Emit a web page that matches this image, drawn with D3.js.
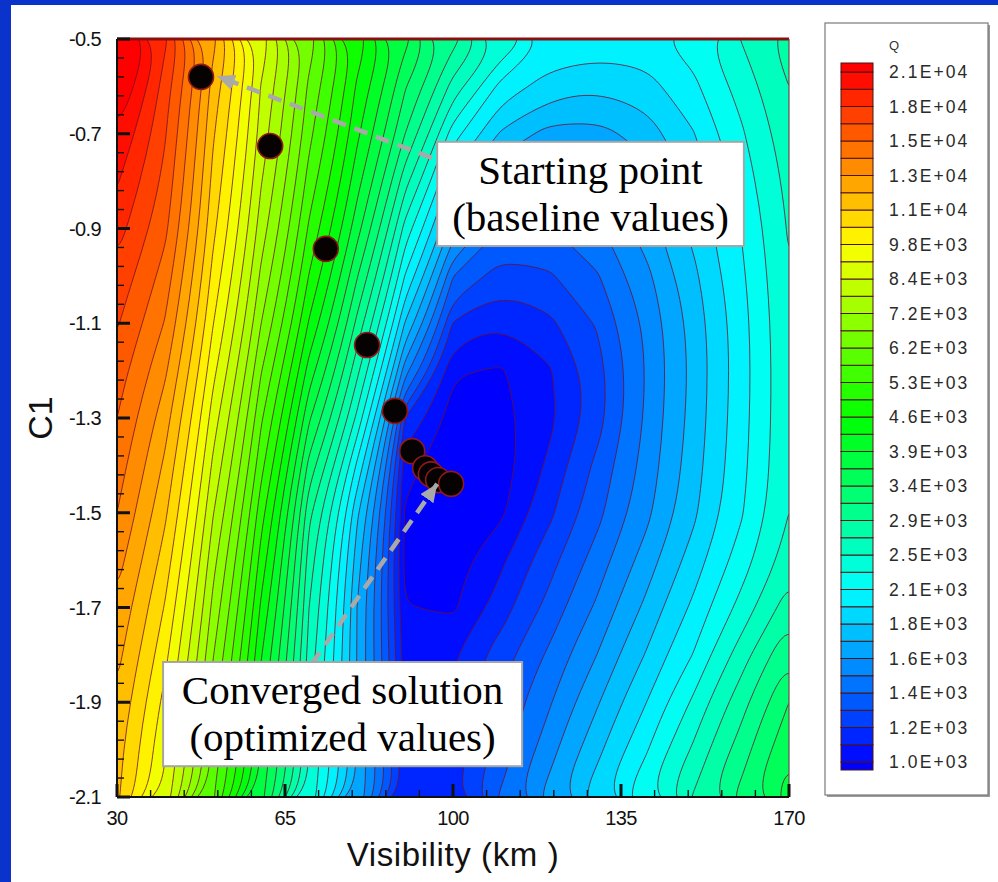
<!DOCTYPE html>
<html><head><meta charset="utf-8">
<script src="https://cdn.jsdelivr.net/npm/d3@7"></script>
<style>
html,body{margin:0;padding:0;background:#fff;}
svg{display:block;}
</style></head>
<body>
<svg id="chart" width="998" height="882"></svg>
<script>
// ---------------- data ----------------
const visibility = [30, 40, 50, 60, 70, 80, 90, 100, 110, 120, 130, 140, 150, 160, 170];
const c1Values = [-0.5, -0.6, -0.7, -0.8, -0.9, -1.0, -1.1, -1.2, -1.3, -1.4, -1.5, -1.6, -1.7, -1.8, -1.9, -2.0, -2.1];
// Q on the (C1 row, Visibility column) grid
const qRow00 = [25400, 18312, 12612, 8819, 6455, 4797, 3731, 2981, 2483, 2131, 2083, 2091, 2216, 2499, 2794];
const qRow01 = [23009, 17363, 11957, 8392, 6119, 4531, 3406, 2610, 2083, 1912, 1859, 1917, 2102, 2378, 2690];
const qRow02 = [20950, 16842, 11545, 8172, 5887, 4319, 3134, 2214, 1815, 1655, 1655, 1757, 1971, 2282, 2610];
const qRow03 = [19611, 16337, 11165, 7855, 5585, 4054, 2769, 1906, 1568, 1480, 1523, 1647, 1869, 2207, 2551];
const qRow04 = [18593, 15774, 10798, 7521, 5271, 3760, 2423, 1643, 1356, 1349, 1439, 1638, 1875, 2146, 2512];
const qRow05 = [17629, 15002, 10331, 7126, 4927, 3403, 2133, 1359, 1209, 1243, 1345, 1537, 1800, 2105, 2483];
const qRow06 = [16842, 14278, 9847, 6715, 4545, 3067, 1828, 1156, 1079, 1142, 1266, 1479, 1751, 2074, 2464];
const qRow07 = [16090, 13486, 9301, 6252, 4110, 2750, 1509, 1008, 992, 1068, 1213, 1463, 1738, 2066, 2455];
const qRow08 = [15489, 12747, 8765, 5833, 3692, 2444, 1164, 966, 973, 1056, 1210, 1473, 1749, 2074, 2455];
const qRow09 = [14911, 12140, 8297, 5476, 3296, 2109, 1023, 955, 959, 1096, 1281, 1499, 1770, 2089, 2464];
const qRow10 = [14354, 11589, 7849, 5106, 2966, 1866, 992, 959, 985, 1141, 1323, 1538, 1805, 2120, 2493];
const qRow11 = [13713, 11039, 7430, 4804, 2799, 1770, 977, 966, 1063, 1219, 1401, 1628, 1899, 2219, 2590];
const qRow12 = [13101, 10514, 7083, 4524, 2692, 1704, 1004, 985, 1120, 1288, 1482, 1728, 2014, 2367, 2794];
const qRow13 = [12612, 10029, 6741, 4279, 2611, 1699, 1033, 1071, 1209, 1374, 1580, 1842, 2146, 2586, 3109];
const qRow14 = [12140, 9559, 6406, 4063, 2535, 1694, 1055, 1083, 1272, 1448, 1688, 1973, 2338, 2811, 3380];
const qRow15 = [11776, 9160, 6078, 3897, 2483, 1687, 1071, 1096, 1296, 1529, 1797, 2112, 2520, 3009, 3592];
const qRow16 = [11598, 8819, 5802, 3737, 2435, 1679, 1129, 1156, 1371, 1624, 1924, 2282, 2704, 3204, 3797];
const qGrid = [qRow00, qRow01, qRow02, qRow03, qRow04, qRow05, qRow06, qRow07, qRow08, qRow09, qRow10,
               qRow11, qRow12, qRow13, qRow14, qRow15, qRow16];

const qLevels = [1000, 1079, 1164, 1257, 1356, 1463, 1579, 1704, 1838, 1984, 2141, 2310, 2493, 2690, 2903,
                 3132, 3380, 3647, 3935, 4247, 4583, 4945, 5336, 5758, 6214, 6705, 7235, 7807, 8425, 9091,
                 9810, 10586, 11423, 12327, 13302, 14354, 15489, 16714, 18035, 19462, 21000];
const legendLabels = ["2.1E+04", "1.8E+04", "1.5E+04", "1.3E+04", "1.1E+04", "9.8E+03", "8.4E+03", "7.2E+03",
                      "6.2E+03", "5.3E+03", "4.6E+03", "3.9E+03", "3.4E+03", "2.9E+03", "2.5E+03", "2.1E+03",
                      "1.8E+03", "1.6E+03", "1.4E+03", "1.2E+03", "1.0E+03"];
const xTicks = [30, 65, 100, 135, 170];
const yTicks = [-0.5, -0.7, -0.9, -1.1, -1.3, -1.5, -1.7, -1.9, -2.1];
const xMinorStep = 7;
const yMinorStep = 0.04;

// optimisation path (iterates)
const pathV  = [47.5, 61.9, 73.5, 82.1, 87.9, 91.5, 94.2, 95.4, 96.9, 99.6];
const pathC1 = [-0.580, -0.726, -0.943, -1.146, -1.285, -1.370, -1.406, -1.419, -1.431, -1.439];

// annotations (data coordinates)
const noteText  = [["Starting point", "(baseline values)"], ["Converged solution", "(optimized values)"]];
const noteBoxV  = [[96.7, 160.6], [39.6, 114.4]];
const noteBoxC1 = [[-0.717, -0.937], [-1.815, -2.035]];
const arrowFromV  = [95.6, 70.6];
const arrowFromC1 = [-0.751, -1.819];
const arrowToV    = [50.8, 96.7];
const arrowToC1   = [-0.578, -1.439];

// ---------------- drawing ----------------
const svg = d3.select("#chart");
const W = 998, H = 882;
const plot = {left: 117, right: 789, top: 39, bottom: 797};

svg.append("rect").attr("width", W).attr("height", H).attr("fill", "#ffffff");
svg.append("rect").attr("x", 0).attr("y", 0).attr("width", 11).attr("height", H).attr("fill", "#0a33cc");
svg.append("rect").attr("x", 0).attr("y", 0).attr("width", W).attr("height", 5).attr("fill", "#0a33cc");

const x = d3.scaleLinear().domain(d3.extent(visibility)).range([plot.left, plot.right]);
const y = d3.scaleLinear().domain([c1Values[0], c1Values[c1Values.length - 1]]).range([plot.top, plot.bottom]);

const rainbow = d3.piecewise(d3.interpolateRgb, ["#0000ff", "#00ffff", "#00ff00", "#ffff00", "#ff0000"]);
const nBands = qLevels.length - 1;
const bandColor = b => rainbow(Math.max(0, Math.min(1, (b + 0.5) / nBands)));

const defs = svg.append("defs");
defs.append("clipPath").attr("id", "plotClip").append("rect")
  .attr("x", plot.left).attr("y", plot.top)
  .attr("width", plot.right - plot.left).attr("height", plot.bottom - plot.top);
defs.append("marker").attr("id", "head").attr("markerUnits", "userSpaceOnUse")
  .attr("markerWidth", 20).attr("markerHeight", 18).attr("refX", 18).attr("refY", 8)
  .attr("orient", "auto")
  .append("path").attr("d", "M0,0 L18,8 L0,16 Z").attr("fill", "#a9a9a9");

const nx = visibility.length, ny = c1Values.length;
const dV = visibility[1] - visibility[0], dC = c1Values[1] - c1Values[0];
const toPx = ([px, py]) => [x(visibility[0] + (px - 0.5) * dV), y(c1Values[0] + (py - 0.5) * dC)];
const ringLine = d3.line().curve(d3.curveBasisClosed);
const contourPath = mp => mp.coordinates
  .map(poly => poly.map(ring => ringLine(ring.slice(0, -1).map(toPx))).join(""))
  .join("");
const contours = d3.contours().size([nx, ny]).thresholds(qLevels)(qGrid.flat());

const gPlot = svg.append("g").attr("clip-path", "url(#plotClip)");
gPlot.append("rect").attr("x", plot.left).attr("y", plot.top)
  .attr("width", plot.right - plot.left).attr("height", plot.bottom - plot.top)
  .attr("fill", bandColor(-1));
gPlot.selectAll("path.band").data(contours).join("path").attr("class", "band")
  .attr("d", contourPath).attr("fill", (d, i) => bandColor(i)).attr("fill-rule", "evenodd").attr("stroke", "none");
gPlot.selectAll("path.line").data(contours).join("path").attr("class", "line")
  .attr("d", contourPath).attr("fill", "none").attr("stroke", "#6e0e2a").attr("stroke-width", 1)
  .attr("stroke-opacity", 0.78);

// frame
svg.append("line").attr("x1", plot.left).attr("x2", plot.right).attr("y1", plot.top).attr("y2", plot.top)
  .attr("stroke", "#8a1010").attr("stroke-width", 3);
svg.append("line").attr("x1", plot.right).attr("x2", plot.right).attr("y1", plot.top).attr("y2", plot.bottom)
  .attr("stroke", "#6a4a4a").attr("stroke-width", 1.2);
svg.append("line").attr("x1", plot.left).attr("x2", plot.left).attr("y1", plot.top).attr("y2", plot.bottom)
  .attr("stroke", "#111").attr("stroke-width", 2);
svg.append("line").attr("x1", plot.left).attr("x2", plot.right).attr("y1", plot.bottom).attr("y2", plot.bottom)
  .attr("stroke", "#111").attr("stroke-width", 2);

// ticks
const gAx = svg.append("g");
const yMinor = d3.range(0, Math.round((yTicks[0] - yTicks[yTicks.length - 1]) / yMinorStep) + 1)
  .map(i => yTicks[0] - i * yMinorStep);
gAx.selectAll("line.ym").data(yMinor).join("line").attr("class", "ym")
  .attr("x1", plot.left).attr("x2", plot.left + 7).attr("y1", d => y(d)).attr("y2", d => y(d))
  .attr("stroke", "#111").attr("stroke-width", 1.4);
gAx.selectAll("line.yM").data(yTicks).join("line").attr("class", "yM")
  .attr("x1", plot.left).attr("x2", plot.left + 13).attr("y1", d => y(d)).attr("y2", d => y(d))
  .attr("stroke", "#111").attr("stroke-width", 3);
const xMinor = d3.range(0, Math.round((xTicks[xTicks.length - 1] - xTicks[0]) / xMinorStep) + 1)
  .map(i => xTicks[0] + i * xMinorStep);
gAx.selectAll("line.xm").data(xMinor).join("line").attr("class", "xm")
  .attr("y1", plot.bottom).attr("y2", plot.bottom - 7).attr("x1", d => x(d)).attr("x2", d => x(d))
  .attr("stroke", "#111").attr("stroke-width", 1.4);
gAx.selectAll("line.xM").data(xTicks).join("line").attr("class", "xM")
  .attr("y1", plot.bottom).attr("y2", plot.bottom - 13).attr("x1", d => x(d)).attr("x2", d => x(d))
  .attr("stroke", "#111").attr("stroke-width", 3);

gAx.selectAll("text.yl").data(yTicks).join("text").attr("class", "yl")
  .attr("x", 101).attr("y", d => y(d)).attr("dy", "0.36em").attr("text-anchor", "end")
  .attr("font-family", "Liberation Sans, Arial, sans-serif").attr("font-size", 20)
  .attr("letter-spacing", -0.6).attr("fill", "#111").text(d => d.toFixed(1));
gAx.selectAll("text.xl").data(xTicks).join("text").attr("class", "xl")
  .attr("x", d => x(d)).attr("y", 825).attr("text-anchor", "middle")
  .attr("font-family", "Liberation Sans, Arial, sans-serif").attr("font-size", 20)
  .attr("letter-spacing", -0.6).attr("fill", "#111").text(d => d);
svg.append("text").attr("x", (plot.left + plot.right) / 2).attr("y", 866).attr("text-anchor", "middle")
  .attr("font-family", "Liberation Sans, Arial, sans-serif").attr("font-size", 33)
  .attr("letter-spacing", 0.6).attr("fill", "#111").text("Visibility (km )");
svg.append("text").attr("transform", `translate(52,${(plot.top + plot.bottom) / 2}) rotate(-90)`)
  .attr("text-anchor", "middle")
  .attr("font-family", "Liberation Sans, Arial, sans-serif").attr("font-size", 34)
  .attr("fill", "#111").text("C1");

// optimisation path dots
svg.append("g").selectAll("circle").data(pathV.map((v, i) => [v, pathC1[i]])).join("circle")
  .attr("cx", d => x(d[0])).attr("cy", d => y(d[1])).attr("r", 12.5)
  .attr("fill", "#070202").attr("stroke", "#8e1a1a").attr("stroke-width", 1.6);

// arrows
const gArr = svg.append("g");
arrowFromV.forEach((v, i) => {
  gArr.append("line").attr("x1", x(v)).attr("y1", y(arrowFromC1[i]))
    .attr("x2", x(arrowToV[i])).attr("y2", y(arrowToC1[i]))
    .attr("stroke", "#a9a9a9").attr("stroke-width", 4.5).attr("stroke-dasharray", "14,9")
    .attr("marker-end", "url(#head)");
});

// annotation boxes
noteText.forEach((lines, i) => {
  const x0 = x(noteBoxV[i][0]), x1 = x(noteBoxV[i][1]);
  const y0 = y(noteBoxC1[i][0]), y1 = y(noteBoxC1[i][1]);
  const g = svg.append("g");
  g.append("rect").attr("x", x0).attr("y", y0).attr("width", x1 - x0).attr("height", y1 - y0)
    .attr("fill", "#ffffff").attr("stroke", "#a5a5a5").attr("stroke-width", 2);
  lines.forEach((t, k) => {
    g.append("text").attr("x", (x0 + x1) / 2).attr("y", y0 + 42 + k * 47)
      .attr("text-anchor", "middle").attr("font-family", "Liberation Serif, Times New Roman, serif")
      .attr("font-size", 41).attr("fill", "#000").text(t);
  });
});

// legend
const lg = svg.append("g");
lg.append("rect").attr("x", 827).attr("y", 25).attr("width", 163).attr("height", 772).attr("fill", "#9a9a9a");
lg.append("rect").attr("x", 825).attr("y", 23).attr("width", 163).attr("height", 772)
  .attr("fill", "#ffffff").attr("stroke", "#7a7a7a").attr("stroke-width", 1.2);
lg.append("text").attr("x", 894).attr("y", 50).attr("text-anchor", "middle")
  .attr("font-family", "Liberation Sans, Arial, sans-serif").attr("font-size", 13).attr("fill", "#333").text("Q");
const ly = d3.scaleLinear().domain([0, nBands]).range([762, 72]);
const barX = 841, barW = 32;
const cells = d3.range(-1, nBands + 1);
lg.selectAll("rect.cell").data(cells).join("rect").attr("class", "cell")
  .attr("x", barX).attr("width", barW)
  .attr("y", b => b < 0 ? ly(0) : (b >= nBands ? ly(nBands) - 9 : ly(b + 1)))
  .attr("height", b => b < 0 ? 8 : (b >= nBands ? 9 : ly(b) - ly(b + 1)))
  .attr("fill", b => bandColor(b)).attr("stroke", "#4a1414").attr("stroke-width", 1);
lg.selectAll("text.lab").data(legendLabels).join("text").attr("class", "lab")
  .attr("x", 889).attr("y", (d, k) => ly(nBands - 2 * k)).attr("dy", "0.36em")
  .attr("font-family", "Liberation Sans, Arial, sans-serif").attr("font-size", 17.5)
  .attr("letter-spacing", 2.1).attr("fill", "#2a2a2a").text(d => d);
</script>
</body></html>
